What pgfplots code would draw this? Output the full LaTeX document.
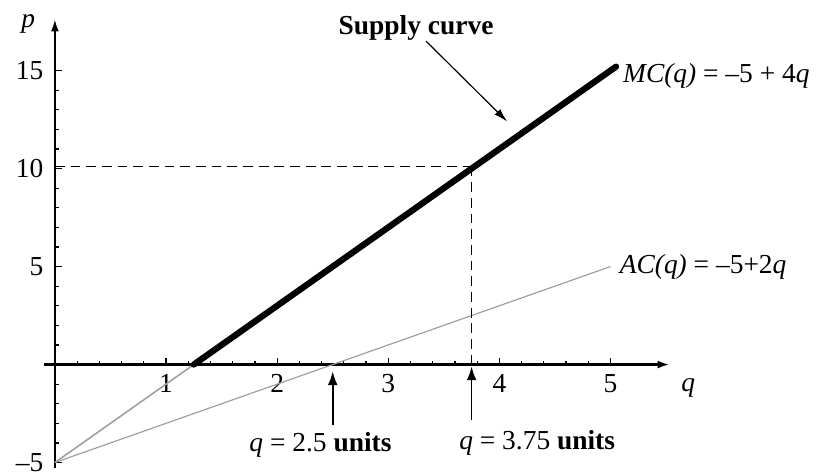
\documentclass[border=0pt]{standalone}
\usepackage{fontspec}
\setmainfont{Liberation Serif}
\usepackage{pgfplots}
\pgfplotsset{compat=1.18}
\usetikzlibrary{arrows.meta}

\begin{document}
\fontsize{14}{16}\selectfont
\begin{tikzpicture}
\begin{axis}[
    x=56.7pt, y=10pt,
    axis lines=middle,
    xmin=-0.1, xmax=5.53,
    ymin=-5.3, ymax=17.6,
    axis line style={line width=0.8pt, -{Latex[length=6pt,width=4pt]}},
    x axis line style={line width=1.1pt},
    xtick={1,2,3,4,5},
    ytick={-5,5,10,15},
    yticklabels={\textendash5,5,10,15},
    minor xtick={0.2,0.4,...,5.0},
    minor ytick={-4,-3,...,15},
    tick align=inside,
    major tick length=3.5pt,
    minor tick length=2pt,
    tick style={black, line width=0.6pt},
    ticklabel style={font=\fontsize{14}{16}\selectfont},
    yticklabel style={xshift=-1pt},
    /pgf/number format/assume math mode=true,
    clip=false,
]

% hidden bounding corners
\coordinate (bbsw) at (axis cs:-0.494,-5.6);
\coordinate (bbne) at (axis cs:7.02,18.6);

% MC (thin gray) and AC
\addplot[gray!75, line width=0.8pt] coordinates {(0,-5) (5.05,15.2)};
\addplot[gray!75, line width=0.6pt] coordinates {(0,-5) (5,5)};

% supply curve (MC above AC min)
\addplot[black, line width=3.2pt, line cap=round] coordinates {(1.25,0) (5.05,15.2)};

% dashed guides
\addplot[black, line width=0.5pt, dash pattern=on 5pt off 3pt] coordinates {(0,10.1) (3.75,10.1)};
\addplot[black, line width=0.5pt, dash pattern=on 5pt off 3pt] coordinates {(3.75,10.1) (3.75,0)};

% arrows to quantities
\addplot[black, line width=0.8pt, -{Latex[length=7pt,width=5pt]}] coordinates {(2.5,-3.1) (2.5,-0.35)};
\addplot[black, line width=0.8pt, -{Latex[length=7pt,width=5pt]}] coordinates {(3.75,-2.85) (3.75,-0.1)};
\addplot[black, line width=0.6pt, -{Latex[length=7pt,width=4pt]}] coordinates {(3.34,16.5) (4.07,12.4)};

\node at (axis cs:2.39,-4.1) {\textit{q} = 2.5 \textbf{units}};
\node at (axis cs:4.34,-4.0) {\textit{q} = 3.75 \textbf{units}};
\node at (axis cs:3.25,17.15) {\textbf{Supply curve}};
\node[anchor=west, inner sep=0pt] at (axis cs:5.11,14.75) {\textit{MC(q)} = \textendash5 + 4\textit{q}};
\node[anchor=west, inner sep=0pt] at (axis cs:5.08,5.0) {\textit{AC(q)} = \textendash5+2\textit{q}};
\node at (axis cs:5.7,-1.2) {\textit{q}};
\node at (axis cs:-0.24,17.4) {\textit{p}};
\end{axis}
\pgfresetboundingbox
\path[use as bounding box] (bbsw) rectangle (bbne);
\end{tikzpicture}
\end{document}
